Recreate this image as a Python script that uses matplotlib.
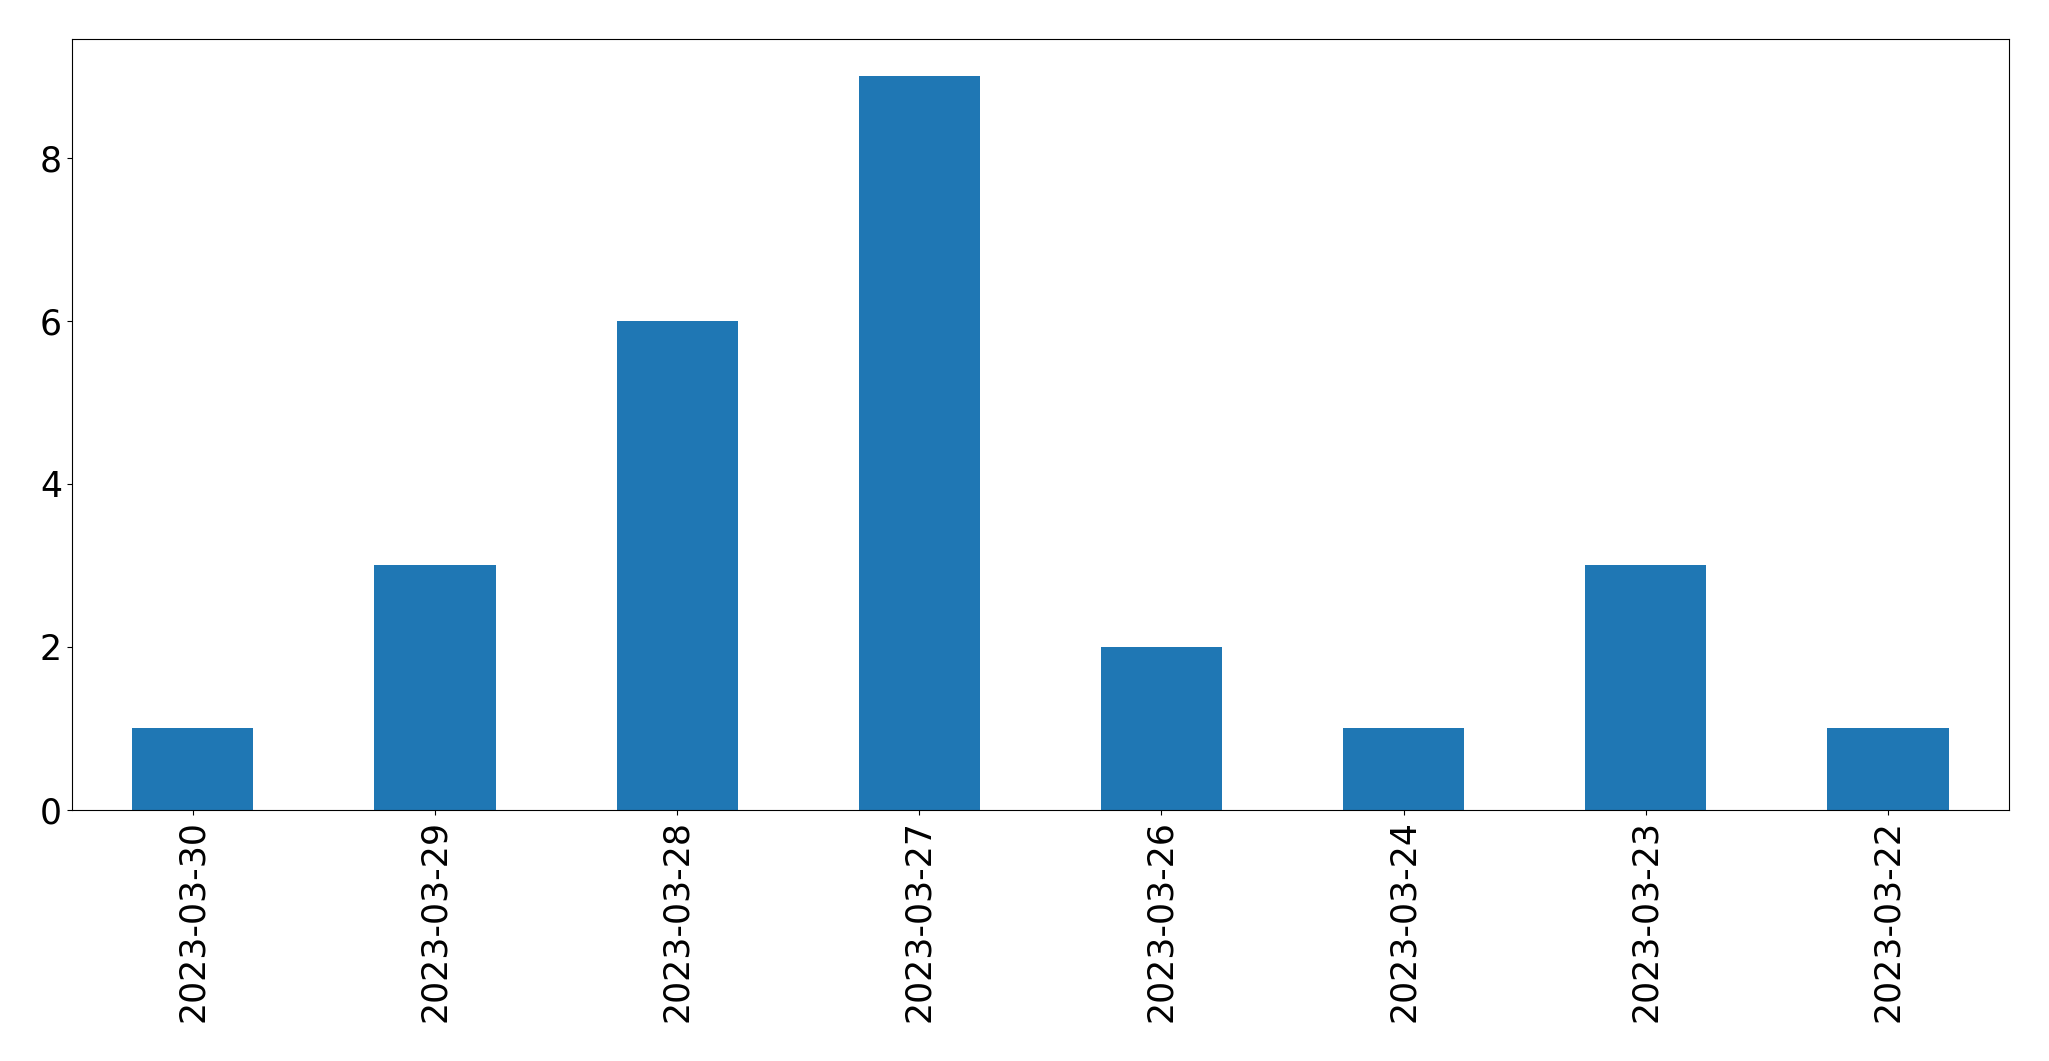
import matplotlib
matplotlib.use("Agg")
import matplotlib.pyplot as plt
import pandas as pd

dates = ["2023-03-30", "2023-03-29", "2023-03-28", "2023-03-27",
         "2023-03-26", "2023-03-24", "2023-03-23", "2023-03-22"]
counts = [1, 3, 6, 9, 2, 1, 3, 1]

s = pd.Series(counts, index=dates)

fig, ax = plt.subplots(figsize=(20.49, 10.61), dpi=100)
s.plot(kind="bar", ax=ax, color="#1f77b4", fontsize=25)
ax.set_yticks([0, 2, 4, 6, 8])
fig.subplots_adjust(left=0.035, right=0.9805, top=0.963, bottom=0.2366)

plt.savefig("out.png", dpi=100)
